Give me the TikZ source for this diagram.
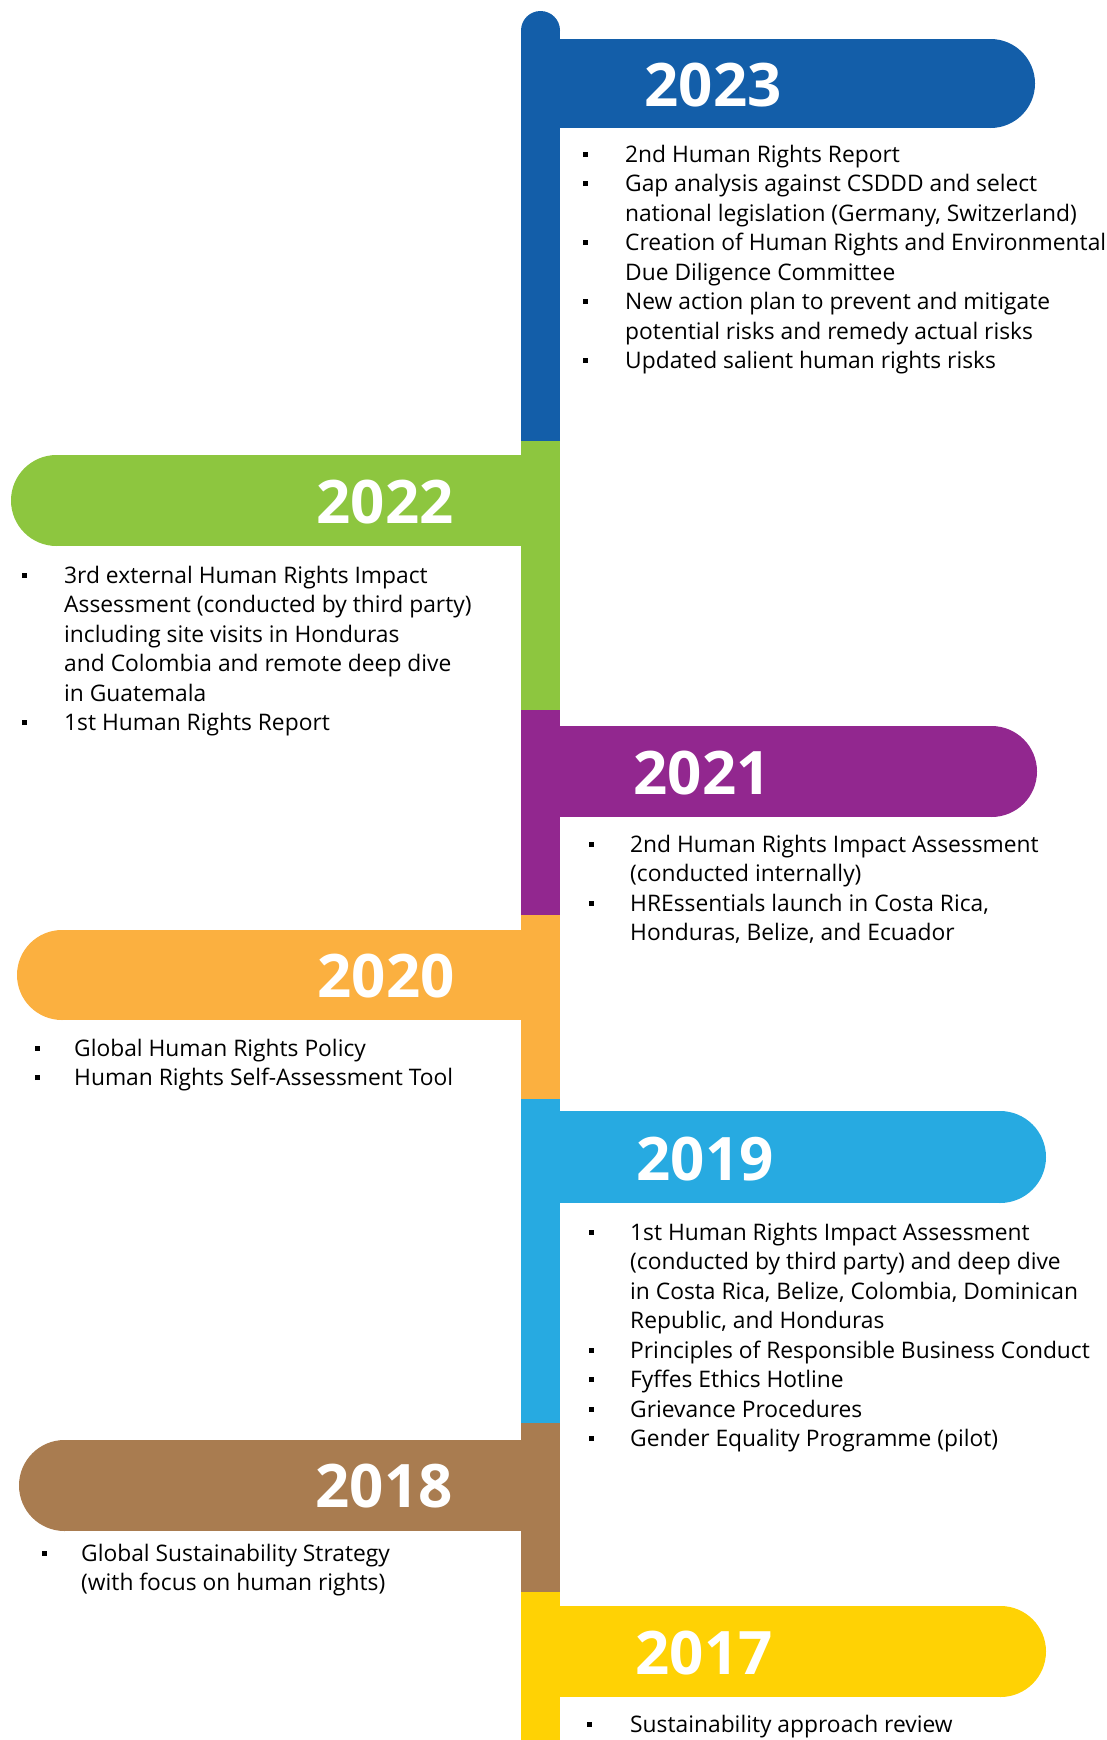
\documentclass[tikz,border=0pt]{standalone}
\usepackage{fontspec}
\setmainfont{Open Sans}
\definecolor{cblue}{HTML}{135EA9}
\definecolor{cgreen}{HTML}{8DC63F}
\definecolor{cpurple}{HTML}{92278F}
\definecolor{corange}{HTML}{FBB040}
\definecolor{clight}{HTML}{27AAE1}
\definecolor{cbrown}{HTML}{A97C50}
\definecolor{cyellow}{HTML}{FFD204}
\newcommand\mybul[1]{\makebox[#1][l]{\rule[5.5pt]{5pt}{5pt}}}
\newcommand\mycont[1]{\makebox[#1][l]{}}
\begin{document}
\begin{tikzpicture}[x=1pt,y=-1pt,
  year/.style={text=white,font=\fontsize{60}{60}\selectfont\bfseries,inner sep=0pt},
  items/.style={anchor=base west,inner sep=0pt,font=\fontsize{22.8}{29.5}\selectfont,text=black}]
\useasboundingbox (0,0) rectangle (1107,1740);
% vertical bar
\fill[cblue] (540.5,30.5) circle[radius=19.5pt];
\fill[cblue]   (521,30.5) rectangle (560,441);
\fill[cgreen]  (521,441) rectangle (560,710);
\fill[cpurple] (521,710) rectangle (560,915);
\fill[corange] (521,915) rectangle (560,1099);
\fill[clight]  (521,1099) rectangle (560,1423);
\fill[cbrown]  (521,1423) rectangle (560,1592);
\fill[cyellow] (521,1592) rectangle (560,1740);
% banners right
\fill[cblue] (540,39) rectangle (990.5,128);
\fill[cblue] (990.5,83.5) circle[radius=44.5pt];
\fill[cpurple] (540,726) rectangle (991.5,817);
\fill[cpurple] (991.5,771.5) circle[radius=45.5pt];
\fill[clight] (540,1111) rectangle (1000,1203);
\fill[clight] (1000,1157) circle[radius=46pt];
\fill[cyellow] (540,1606) rectangle (1000.5,1697);
\fill[cyellow] (1000.5,1651.5) circle[radius=45.5pt];
% banners left
\fill[cgreen] (56.5,455) rectangle (540,546);
\fill[cgreen] (56.5,500.5) circle[radius=45.5pt];
\fill[corange] (62,930) rectangle (540,1020);
\fill[corange] (62,975) circle[radius=45pt];
\fill[cbrown] (64.5,1440) rectangle (540,1531);
\fill[cbrown] (64.5,1485.5) circle[radius=45.5pt];
% years
\node[year] (y2023) at (713,85) {2023};
\node[year] (y2022) at (385,502) {2022};
\node[year] (y2021) at (702,773) {2021};
\node[year] (y2020) at (386,976) {2020};
\node[year] (y2019) at (705,1159) {2019};
\node[year] (y2018) at (384,1486) {2018};
\node[year] (y2017) at (704,1653) {2017};
% lists
\node[items] (l2023) at (582.5,162) {\begin{tabular}[t]{@{}l@{}l@{}}
\mybul{42.5pt} & 2nd Human Rights Report\\
\mybul{42.5pt} & Gap analysis against CSDDD and select\\
\mycont{42.5pt} & national legislation (Germany, Switzerland)\\
\mybul{42.5pt} & Creation of Human Rights and Environmental\\
\mycont{42.5pt} & Due Diligence Committee\\
\mybul{42.5pt} & New action plan to prevent and mitigate\\
\mycont{42.5pt} & potential risks and remedy actual risks\\
\mybul{42.5pt} & Updated salient human rights risks
\end{tabular}};
\node[items] (l2022) at (21.5,583) {\begin{tabular}[t]{@{}l@{}l@{}}
\mybul{42.5pt} & 3rd external Human Rights Impact\\
\mycont{42.5pt} & Assessment (conducted by third party)\\
\mycont{42.5pt} & including site visits in Honduras\\
\mycont{42.5pt} & and Colombia and remote deep dive\\
\mycont{42.5pt} & in Guatemala\\
\mybul{42.5pt} & 1st Human Rights Report
\end{tabular}};
\node[items] (l2021) at (588.5,852) {\begin{tabular}[t]{@{}l@{}l@{}}
\mybul{41.5pt} & 2nd Human Rights Impact Assessment\\
\mycont{41.5pt} & (conducted internally)\\
\mybul{41.5pt} & HREssentials launch in Costa Rica,\\
\mycont{41.5pt} & Honduras, Belize, and Ecuador
\end{tabular}};
\node[items] (l2020) at (34.5,1056) {\begin{tabular}[t]{@{}l@{}l@{}}
\mybul{39.5pt} & Global Human Rights Policy\\
\mybul{39.5pt} & Human Rights Self-Assessment Tool
\end{tabular}};
\node[items] (l2019) at (588.5,1240) {\begin{tabular}[t]{@{}l@{}l@{}}
\mybul{41.5pt} & 1st Human Rights Impact Assessment\\
\mycont{41.5pt} & (conducted by third party) and deep dive\\
\mycont{41.5pt} & in Costa Rica, Belize, Colombia, Dominican\\
\mycont{41.5pt} & Republic, and Honduras\\
\mybul{41.5pt} & Principles of Responsible Business Conduct\\
\mybul{41.5pt} & Fyffes Ethics Hotline\\
\mybul{41.5pt} & Grievance Procedures\\
\mybul{41.5pt} & Gender Equality Programme (pilot)
\end{tabular}};
\node[items] (l2018) at (41.5,1561) {\begin{tabular}[t]{@{}l@{}l@{}}
\mybul{39.5pt} & Global Sustainability Strategy\\
\mycont{39.5pt} & (with focus on human rights)
\end{tabular}};
\node[items] (l2017) at (586.5,1732) {\begin{tabular}[t]{@{}l@{}l@{}}
\mybul{43.5pt} & Sustainability approach review
\end{tabular}};
\end{tikzpicture}
\end{document}
